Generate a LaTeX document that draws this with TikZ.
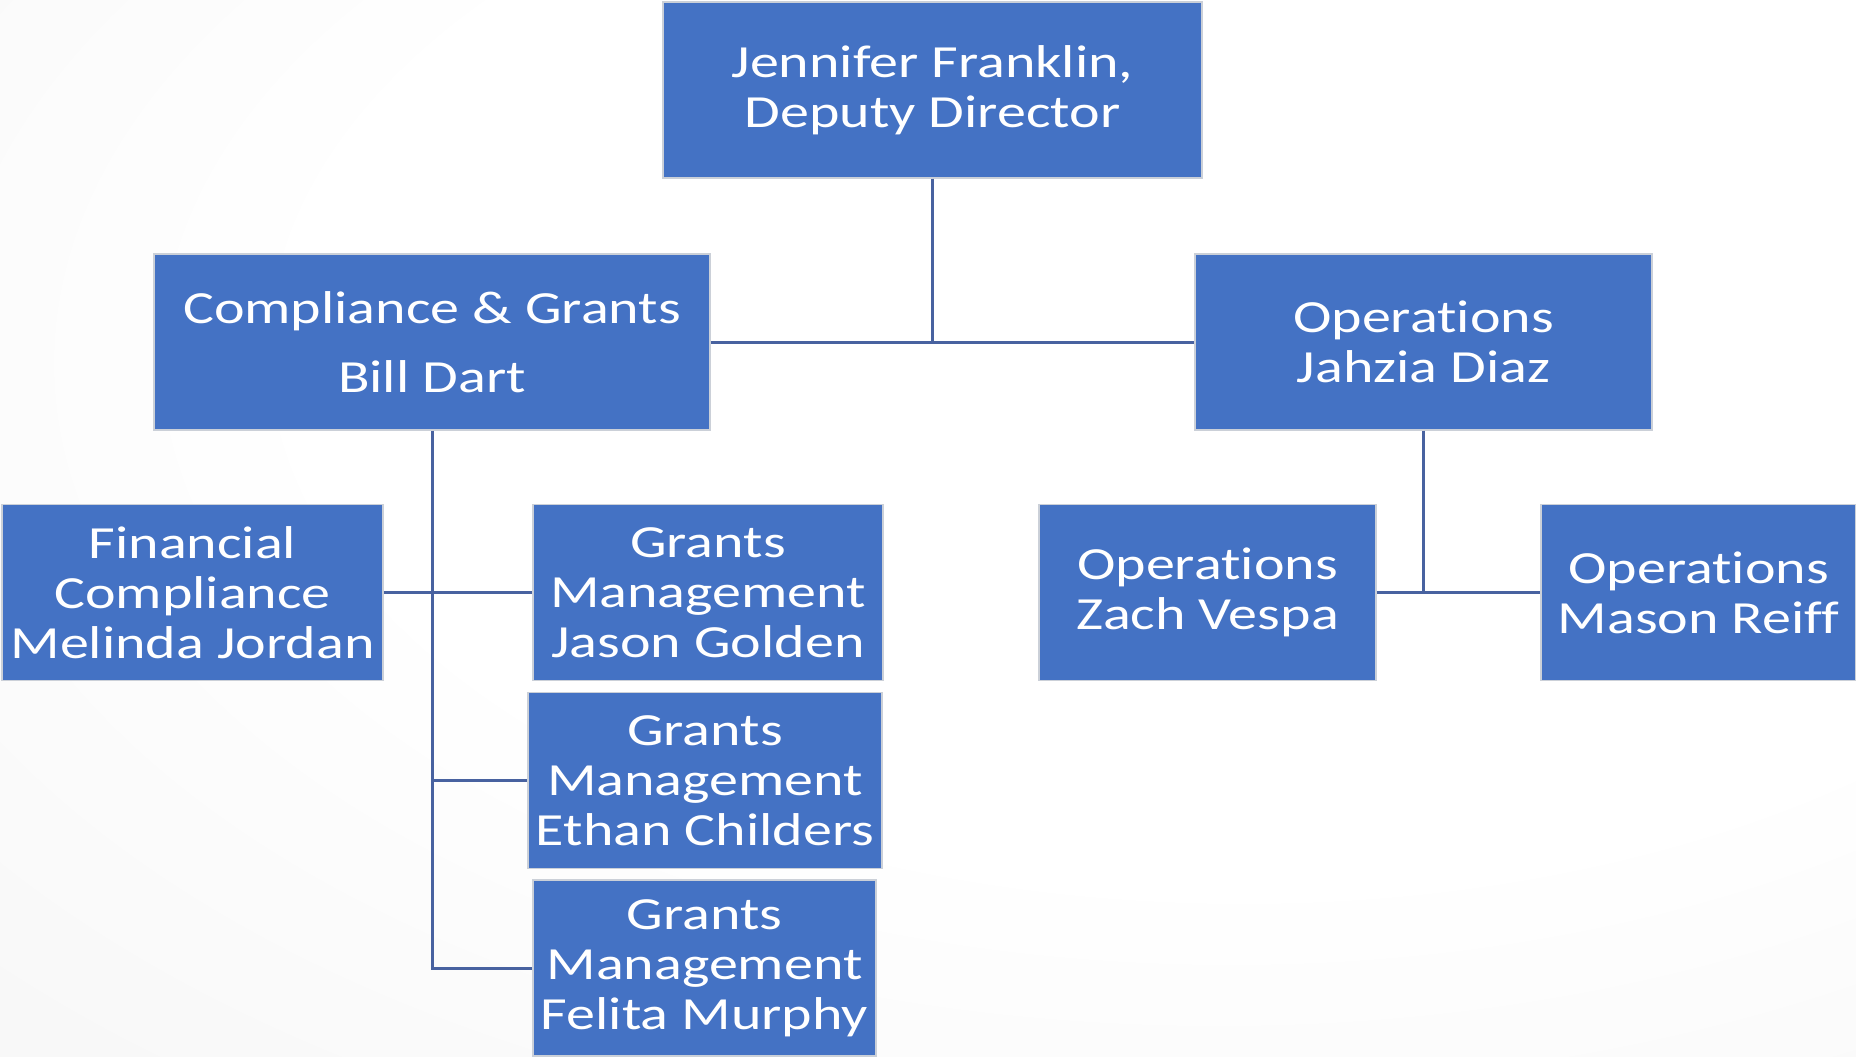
\documentclass[tikz,border=0pt]{standalone}
\usepackage{fontspec}
\newfontfamily\boxfont{Carlito}[FakeStretch=1.26,Ligatures=NoCommon]
\usetikzlibrary{positioning}
\usetikzlibrary{calc}
\definecolor{boxblue}{HTML}{4472C4}
\definecolor{linkblue}{HTML}{4862A0}
\definecolor{rimgray}{HTML}{CBD0D8}
\pgfdeclareradialshading{slidebg}{\pgfpoint{12bp}{12bp}}{color(0bp)=(white); color(25bp)=(white); color(90bp)=(black!10)}
\tikzstyle{unit}=[rectangle,fill=boxblue,draw=rimgray,line width=0.8pt,text=white,align=center,font={\boxfont\fontsize{26.2}{28.45}\selectfont},inner sep=0pt,minimum height=3.52cm]
\tikzstyle{link} = [draw,linkblue,line width=0.06cm]

\begin{document}
\begin{tikzpicture}[x=0.02cm,y=-0.02cm]

    \useasboundingbox (0,0) rectangle (1856,1056);
    \path[shading=slidebg] (0,0) rectangle (1856,1056);

%level 1
    \foreach \pos/\name/\bw/\label in {{(932.5,90)/top/539/{Jennifer Franklin,\\Deputy Director}}}
        \node[unit,minimum width=\bw*0.02cm] (\name) at \pos {\label};
%level 2
    \foreach \pos/\name/\bw/\label in {{(432,342)/comp/556/{Compliance \& Grants\\[0.38cm]Bill Dart}}, {(1423.5,342)/ops/457/{Operations\\Jahzia Diaz}}}
        \node[unit,minimum width=\bw*0.02cm] (\name) at \pos {\label};
%level 3
    \foreach \pos/\name/\bw/\label in {{(192.5,592.5)/fin/381/{Financial\\Compliance\\Melinda Jordan}}, {(708,592.5)/jason/350/{Grants\\Management\\Jason Golden}}, {(705,780.5)/ethan/354/{Grants\\Management\\Ethan Childers}}, {(704.5,968)/felita/343/{Grants\\Management\\Felita Murphy}}, {(1207.5,592.5)/zach/337/{Operations\\Zach Vespa}}, {(1698.5,592.5)/mason/315/{Operations\\Mason Reiff}}}
        \node[unit,minimum width=\bw*0.02cm] (\name) at \pos {\label};

 % Edges
    \path[link] (top.south) -- (top.south |- comp.east);
    \path[link] (comp.south) -- (comp.south |- felita.west) -- (felita.west);
    \path[link] (comp.south |- ethan.west) -- (ethan.west);
    \path[link] (ops.south) -- (ops.south |- zach.east);
    \foreach \source/\dest in {comp/ops, fin/jason, zach/mason}
        \path[link] (\source.east) -- (\dest.west);

\end{tikzpicture}
\end{document}
